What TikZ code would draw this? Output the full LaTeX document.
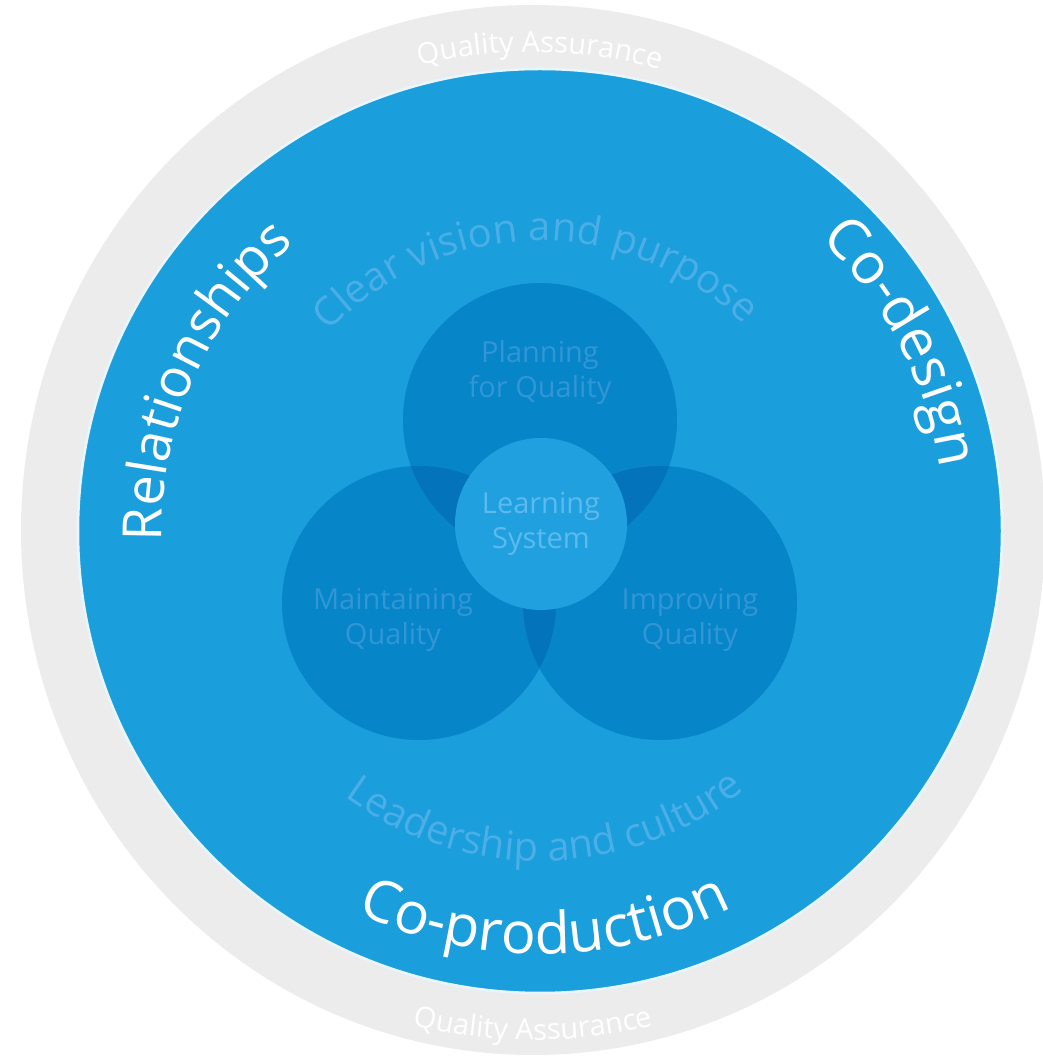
\documentclass[tikz,border=0pt]{standalone}
\usepackage{fontspec}
\setmainfont{Open Sans}
\usetikzlibrary{decorations.text}
\definecolor{ringgray}{RGB}{236,236,236}
\definecolor{mainblue}{RGB}{26,158,220}
\definecolor{darkblue}{RGB}{6,133,201}
\definecolor{overlapblue}{RGB}{3,116,187}
\definecolor{centerblue}{RGB}{32,160,222}
\definecolor{fainttext}{RGB}{76,174,230}
\definecolor{circtext}{RGB}{50,150,214}
\definecolor{centertext}{RGB}{92,186,238}
\definecolor{edgewhite}{RGB}{232,246,255}
\tikzset{
  venn/.style={circle, fill=darkblue, minimum size=274pt, inner sep=0pt},
  vennlabel/.style={align=center, text=circtext, font=\fontsize{29pt}{35pt}\selectfont},
  arctext/.style={decorate, decoration={text along path, text align=center, text={#1}}}
}
\begin{document}
\begin{tikzpicture}[x=1pt,y=1pt]
\useasboundingbox (0,0) rectangle (1043,1060);
% outer ring
\fill[ringgray] (533,530) ellipse [x radius=512pt, y radius=525pt];
\coordinate (R) at (533,530);
% main blue disc
\coordinate (C) at (540,529);
\fill[mainblue, draw=edgewhite, line width=2.5pt] (C) circle [radius=462pt];
% three circles
\node[venn] (plan) at (540,640) {};
\node[venn] (maint) at (419,457) {};
\node[venn] (impr) at (660,457) {};
\begin{scope}
  \clip (plan.center) circle [radius=137pt];
  \fill[overlapblue] (maint.center) circle [radius=137pt];
  \fill[overlapblue] (impr.center) circle [radius=137pt];
\end{scope}
\begin{scope}
  \clip (maint.center) circle [radius=137pt];
  \fill[overlapblue] (impr.center) circle [radius=137pt];
\end{scope}
\node[circle, fill=centerblue, minimum size=172pt, inner sep=0pt, align=center,
      text=centertext, font=\fontsize{29pt}{35pt}\selectfont] (learn) at (541,536) {Learning\\System};
\node[vennlabel] (planl) at (540,688) {Planning\\for Quality};
\node[vennlabel] (maintl) at (393,440) {Maintaining\\Quality};
\node[vennlabel] (imprl) at (690,440) {Improving\\Quality};
% arc texts on the blue disc
\begin{scope}[shift={(C)}]
  \path[arctext={|\fontsize{54pt}{54pt}\selectfont\color{white}|Relationships}]
    (201.5:378pt) arc [start angle=201.5, end angle=110.5, radius=378pt];
  \path[arctext={|\fontsize{57pt}{57pt}\selectfont\color{white}|Co-design}]
    (75:405pt) arc [start angle=75, end angle=-20, radius=405pt];
  \path[arctext={|\fontsize{58pt}{58pt}\selectfont\color{white}|Co-production}]
    (-150:423pt) arc [start angle=-150, end angle=-28.6, radius=423pt];
  \path[arctext={|\fontsize{40pt}{40pt}\selectfont\color{fainttext}|Clear vision and purpose}]
    (160:290pt) arc [start angle=160, end angle=22, radius=290pt];
  \path[arctext={|\fontsize{40pt}{40pt}\selectfont\color{fainttext}|Leadership and culture}]
    (-169:330pt) arc [start angle=-169, end angle=-9, radius=330pt];
\end{scope}
% arc texts on the grey ring
\begin{scope}[shift={(R)}]
  \path[arctext={|\fontsize{29pt}{29pt}\selectfont\color{white}|Quality Assurance}]
    (130:478pt) arc [start angle=130, end angle=48.4, radius=478pt];
  \path[arctext={|\fontsize{29pt}{29pt}\selectfont\color{white}|Quality Assurance}]
    (-131:510pt) arc [start angle=-131, end angle=-49, radius=510pt];
\end{scope}
\end{tikzpicture}
\end{document}
